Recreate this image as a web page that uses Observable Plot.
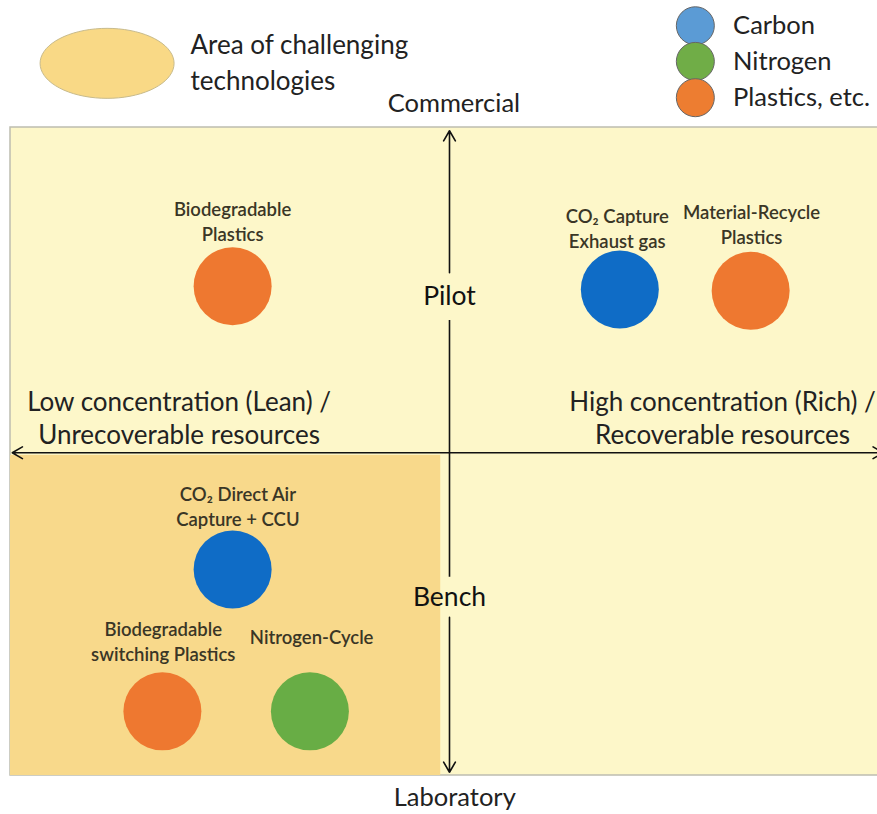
<!DOCTYPE html>
<html>
<head>
<meta charset="utf-8">
<script src="https://cdn.jsdelivr.net/npm/d3@7"></script>
<script src="https://cdn.jsdelivr.net/npm/@observablehq/plot@0.6"></script>
<style>
  html, body { margin: 0; padding: 0; background: #fff; }
  #chart svg { display: block; }
</style>
</head>
<body>
<div id="chart"></div>
<script>
// ---- Data (x: concentration 0 = lean .. 100 = rich; y: maturity 0 = laboratory .. 100 = commercial)
const techNames = ["Biodegradable\nPlastics", "CO₂ Capture\nExhaust gas", "Material-Recycle\nPlastics", "CO₂ Direct Air\nCapture + CCU", "Biodegradable\nswitching Plastics", "Nitrogen-Cycle"];
const techCategory = ["Plastics, etc.", "Carbon", "Plastics, etc.", "Carbon", "Plastics, etc.", "Nitrogen"];
const techConcentration = [25.3, 69.4, 84.3, 25.3, 17.3, 34.1];
const techMaturity = [75.5, 75.0, 74.8, 31.8, 9.9, 9.9];
const techLabelX = [25.3, 69.1, 84.4, 25.9, 17.4, 34.3];
const techLabelY = [85.6, 84.6, 85.2, 41.6, 20.8, 21.6];

const categories = ["Carbon", "Nitrogen", "Plastics, etc."];
const categoryColors = ["#0f6cc6", "#68ad45", "#ee7830"];
const legendColors = ["#5b9bd5", "#70ad47", "#ed7d31"];
const legendY = [115.7, 110.2, 104.6];

const stageNames = ["Commercial", "Pilot", "Bench", "Laboratory"];
const stageX = [50.5, 50, 50, 50.6];
const stageY = [103.7, 73.9, 27.5, -3.5];

const concentrationNames = ["Low concentration (Lean) /\nUnrecoverable resources", "High concentration (Rich) /\nRecoverable resources"];
const concentrationX = [19.2, 81.1];
const concentrationY = [55.3, 55.3];

const areaLabel = "Area of challenging\ntechnologies";

// axis geometry (data units)
const axisX = 50, axisY = 49.8;
const boxX = [0, 102], boxY = [0, 100];
const challengeX = [0, 49.0], challengeY = [0, 49.4];
const pilotGap = [70.2, 77.6], benchGap = [24.4, 30.6];
const vEnds = [0.5, 99.5], hEnds = [0.2, 99.4];
const legendAreaPos = [11.0, 109.9], legendAreaTextPos = [20.5, 110.3];
const legendDotX = 78.0, legendTextX = 82.3;

// ---- Tables built from arrays
const techs = techNames.map((n, i) => ({name: n, cat: techCategory[i], x: techConcentration[i], y: techMaturity[i], lx: techLabelX[i], ly: techLabelY[i]}));
const legend = categories.map((c, i) => ({cat: c, color: legendColors[i], y: legendY[i]}));
const stages = stageNames.map((s, i) => ({name: s, x: stageX[i], y: stageY[i], big: s === "Pilot" || s === "Bench"}));
const concs = concentrationNames.map((s, i) => ({name: s, x: concentrationX[i], y: concentrationY[i]}));

const arrows = [
  {x1: axisX, y1: pilotGap[1], x2: axisX, y2: vEnds[1]},
  {x1: axisX, y1: benchGap[0], x2: axisX, y2: vEnds[0]},
  {x1: axisX, y1: axisY, x2: hEnds[0], y2: axisY},
  {x1: axisX, y1: axisY, x2: hEnds[1], y2: axisY}
];
const segments = [{x: axisX, y1: benchGap[1], y2: pilotGap[0]}];

// ellipse symbol for the "area" legend
const ellipseRatio = 67 / 35;
const ellipseSymbol = {
  draw(context, size) {
    const r = Math.sqrt(size / Math.PI);
    const n = 72;
    for (let i = 0; i <= n; i++) {
      const a = (i / n) * 2 * Math.PI;
      const px = r * ellipseRatio * Math.cos(a), py = r * Math.sin(a);
      if (i === 0) context.moveTo(px, py); else context.lineTo(px, py);
    }
    context.closePath();
  }
};

const font = "Lato, 'Open Sans', sans-serif";

const chart = Plot.plot({
  width: 877,
  height: 814,
  margin: 0,
  x: {domain: [0, 100], range: [10, 888], axis: null},
  y: {domain: [0, 100], range: [775, 127], axis: null},
  color: {domain: categories, range: categoryColors},
  style: {fontFamily: font, background: "#fff"},
  marks: [
    // background box and challenging area
    Plot.rect([{}], {x1: boxX[0], x2: boxX[1], y1: boxY[0], y2: boxY[1], fill: "#fdf7c9", stroke: "#bdbdb0", strokeWidth: 1.5}),
    Plot.rect([{}], {x1: challengeX[0], x2: challengeX[1], y1: challengeY[0], y2: challengeY[1], fill: "#f8d98b"}),
    // axes
    Plot.arrow(arrows, {x1: "x1", y1: "y1", x2: "x2", y2: "y2", stroke: "#111", strokeWidth: 1.6, headLength: 11}),
    Plot.ruleX(segments, {x: "x", y1: "y1", y2: "y2", stroke: "#111", strokeWidth: 1.6}),
    // technologies
    Plot.dot(techs, {x: "x", y: "y", r: 39, fill: "cat"}),
    Plot.text(techs, {x: "lx", y: "ly", text: "name", fontSize: 18.5, lineHeight: 1.35, fill: "#3a3626", fontWeight: 600}),
    // axis labels
    Plot.text(stages.filter(d => !d.big), {x: "x", y: "y", text: "name", fontSize: 25.5, fill: "#222"}),
    Plot.text(stages.filter(d => d.big), {x: "x", y: "y", text: "name", fontSize: 26.5, fill: "#111"}),
    Plot.text(concs, {x: "x", y: "y", text: "name", fontSize: 26, lineHeight: 1.27, fill: "#222"}),
    // legend
    Plot.dot([{}], {x: legendAreaPos[0], y: legendAreaPos[1], r: 35, symbol: ellipseSymbol, fill: "#f9d986", stroke: "#c8bb8c", strokeWidth: 1}),
    Plot.text([areaLabel], {x: legendAreaTextPos[0], y: legendAreaTextPos[1], text: d => d, textAnchor: "start", fontSize: 26, lineHeight: 1.35, fill: "#222"}),
    Plot.dot(legend, {x: legendDotX, y: "y", r: 19, fill: "color", stroke: "#666", strokeWidth: 1}),
    Plot.text(legend, {x: legendTextX, y: "y", text: "cat", textAnchor: "start", fontSize: 25.5, fill: "#222"})
  ]
});
document.getElementById("chart").appendChild(chart);
</script>
</body>
</html>
